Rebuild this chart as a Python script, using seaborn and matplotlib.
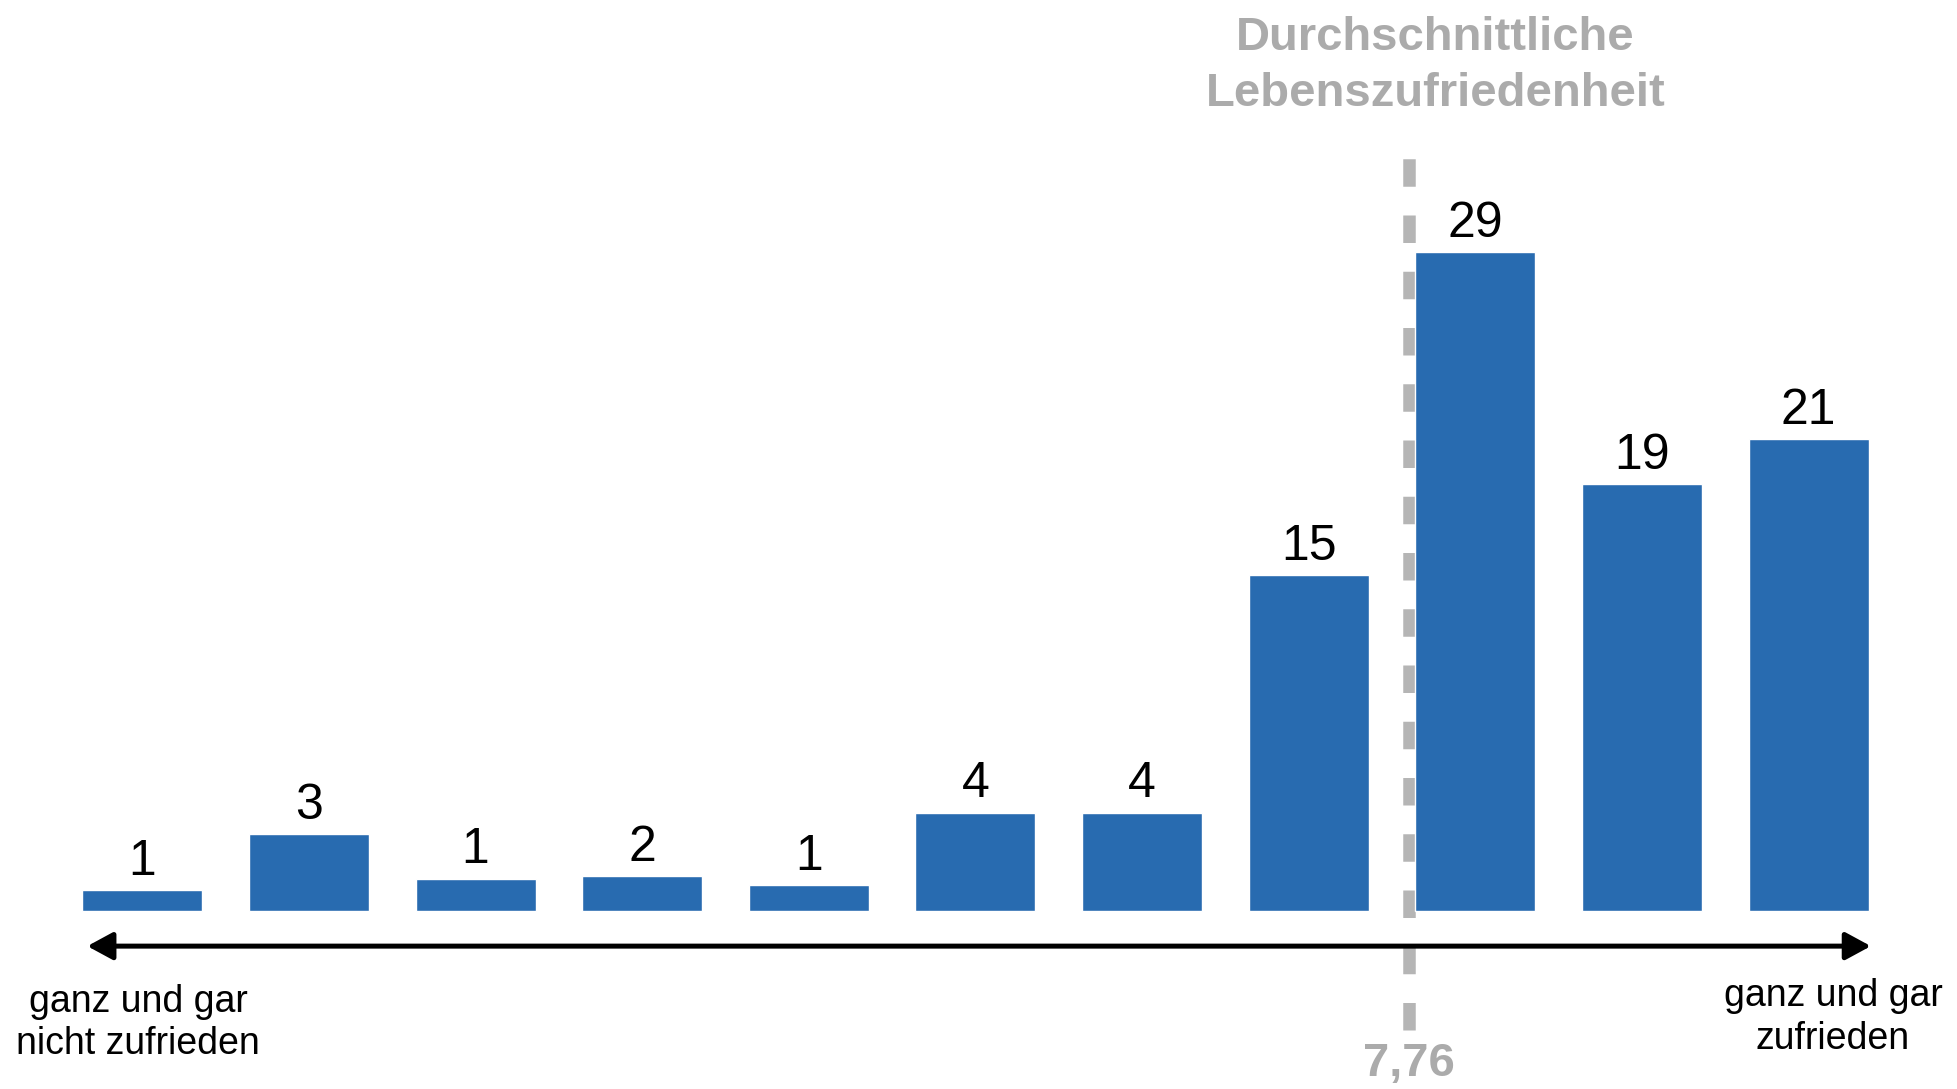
import numpy as np
import pandas as pd
import matplotlib
matplotlib.use("Agg")
import matplotlib.pyplot as plt
import seaborn as sns

# data (percent of answers per scale point 0..10)
scale_points = [0, 1, 2, 3, 4, 5, 6, 7, 8, 9, 10]
bar_heights = [0.93, 3.4, 1.43, 1.54, 1.15, 4.34, 4.34, 14.77, 29.0, 18.78, 20.76]
bar_labels = ["1", "3", "1", "2", "1", "4", "4", "15", "29", "19", "21"]

mean_value = 7.76
mean_label = "7,76"
mean_line_pos = 7.6   # where the dashed line sits in the picture
mean_title = ["Durchschnittliche", "Lebenszufriedenheit"]
left_label = ["ganz und gar", "nicht zufrieden"]
right_label = ["ganz und gar", "zufrieden"]

BLUE = "#286bb0"
GREY = "#ababab"
LINE_GREY = "#b5b5b5"

sns.set_theme(style="white")
plt.rcParams["font.family"] = ["Liberation Sans", "DejaVu Sans"]

df = pd.DataFrame({"punkt": scale_points, "anteil": bar_heights})

fig = plt.figure(figsize=(19.57, 10.89), dpi=100)
ax = fig.add_axes([0, 0, 1, 1])

sns.barplot(data=df, x="punkt", y="anteil", color=BLUE, saturation=1,
            width=0.72, ax=ax, zorder=3)

ax.set_xlim(-0.854, 10.891)
ax.set_ylim(-7.825, 40.09)
ax.set_axis_off()

# value labels above the bars
for i, (h, lab) in enumerate(zip(bar_heights, bar_labels)):
    ax.annotate(lab, xy=(i, h), xytext=(0, 11), textcoords="offset points",
                ha="center", va="baseline", fontsize=36, color="black")

# dashed mean line
ax.plot([mean_line_pos, mean_line_pos], [-5.22, 33.6], color=LINE_GREY,
        lw=9, dashes=(2.2, 2.3), solid_capstyle="butt", zorder=1)

trans = ax.get_xaxis_transform()
ax.text(mean_line_pos, 0.012, mean_label, transform=trans, ha="center",
        va="baseline", fontsize=34, fontweight="bold", color=GREY)

ax.text(mean_value, 0.954, mean_title[0], transform=trans, ha="center",
        va="baseline", fontsize=34, fontweight="bold", color=GREY)
ax.text(mean_value, 0.9025, mean_title[1], transform=trans, ha="center",
        va="baseline", fontsize=34, fontweight="bold", color=GREY)

# double headed axis arrow
ax.annotate("", xy=(-0.33, 0.1312), xytext=(10.374, 0.1312),
            xycoords=trans, textcoords=trans,
            arrowprops=dict(arrowstyle="<|-|>,head_length=0.7,head_width=0.38",
                            color="black", lw=3.6, shrinkA=0, shrinkB=0,
                            mutation_scale=22))

# end labels
def draw_lines(x, y_first, lines, step=0.039):
    for k, line in enumerate(lines):
        ax.text(x, y_first - k * step, line, transform=trans, ha="center",
                va="baseline", fontsize=27, color="black")

draw_lines(-0.024, 0.071, left_label)
draw_lines(10.147, 0.076, right_label)

fig.savefig("out.png", dpi=100)
